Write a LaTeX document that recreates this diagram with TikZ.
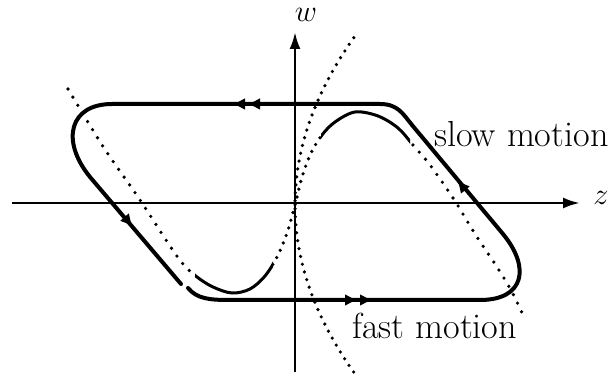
\RequirePackage{fix-cm}
\documentclass[tikz,border=0pt]{standalone}
\usetikzlibrary{arrows.meta}
\begin{document}
\begin{tikzpicture}[x=1pt,y=-1pt,
  axis/.style={line width=2.7pt, -{Latex[length=17pt,width=11pt]}},
  traj/.style={line width=4pt, line cap=round, line join=round},
  tipmark/.style={line width=3pt, -{Latex[length=13pt,width=12pt]}},
  cubdot/.style={line width=3.6pt, line cap=round, dash pattern=on 0pt off 9.5pt},
  pardot/.style={line width=3.6pt, line cap=round, dash pattern=on 0pt off 8pt},
  cubsolid/.style={line width=3pt, line cap=round},
  lbl/.style={inner sep=0pt, font=\fontsize{36.2}{43}\selectfont},
  mlbl/.style={inner sep=0pt, font=\fontsize{30.5}{36}\selectfont}]
\useasboundingbox (0,0) rectangle (611,374);
\def\cubicpath{plot[smooth, tension=0.55] coordinates {(68,89) (104,148) (138,197) (168,243) (183,264) (197,277) (213,287) (232,293) (250,289) (265,276) (277,257) (287,233) (295,205) (302,177) (311,153) (322,135) (335,122) (355,112) (378,116) (398,128) (413,145) (430,165) (453,198) (477,237) (497,267) (512,292) (523,315)}}
% axes
\coordinate (zl) at (12,203);
\coordinate (zr) at (580,203);
\coordinate (wb) at (295,372);
\coordinate (wt) at (295,32);
\draw[axis] (zl) -- (zr);
\draw[axis] (wb) -- (wt);
\node[mlbl, anchor=base] (zlab) at (601,205) {$z$};
\node[mlbl, anchor=base] (wlab) at (306,22) {$w$};
% steep nullcline (dotted parabola)
\draw[pardot] plot[domain=-16.7:17.1, samples=70, smooth] ({295+0.21*\x*\x},{205-10*\x});
% cubic nullcline: dotted outside, solid in the bends
\begin{scope}
  \clip (0,0) rectangle (195,374);
  \draw[cubdot] \cubicpath;
\end{scope}
\begin{scope}
  \clip (273,0) rectangle (321,374);
  \draw[pardot] \cubicpath;
\end{scope}
\begin{scope}
  \clip (410,0) rectangle (611,374);
  \draw[cubdot] \cubicpath;
\end{scope}
\begin{scope}
  \clip (195,0) rectangle (273,374);
  \draw[cubsolid] \cubicpath;
\end{scope}
\begin{scope}
  \clip (321,0) rectangle (410,374);
  \draw[cubsolid] \cubicpath;
\end{scope}
% trajectory
\coordinate (b0) at (188,288);
\coordinate (b1) at (230,300);
\coordinate (b2) at (480,300);
\coordinate (r0) at (503,234);
\coordinate (r1) at (412,125);
\coordinate (t0) at (380,104);
\coordinate (t1) at (112,104);
\coordinate (l0) at (90,177);
\coordinate (l1) at (181,284);
\draw[traj] (b0) .. controls (197,299) and (210,300) .. (b1) -- (b2)
  .. controls (524,300) and (531,268) .. (r0) -- (r1)
  .. controls (403,114) and (398,104) .. (t0) -- (t1)
  .. controls (70,104) and (60,140) .. (l0) -- (l1);
% arrow heads on the trajectory
\draw[tipmark] (258,104) -- (247,104);
\draw[tipmark] (243,104) -- (232,104);
\draw[tipmark] (347,300) -- (358,300);
\draw[tipmark] (362,300) -- (373,300);
\draw[tipmark] (126.5,219.4) -- (133,227);
\draw[tipmark] (463.4,187.7) -- (457,180);
% labels
\node[lbl, anchor=base west] (slow) at (434,147) {slow motion};
\node[lbl, anchor=base west] (fast) at (352,338) {fast motion};
\end{tikzpicture}
\end{document}
